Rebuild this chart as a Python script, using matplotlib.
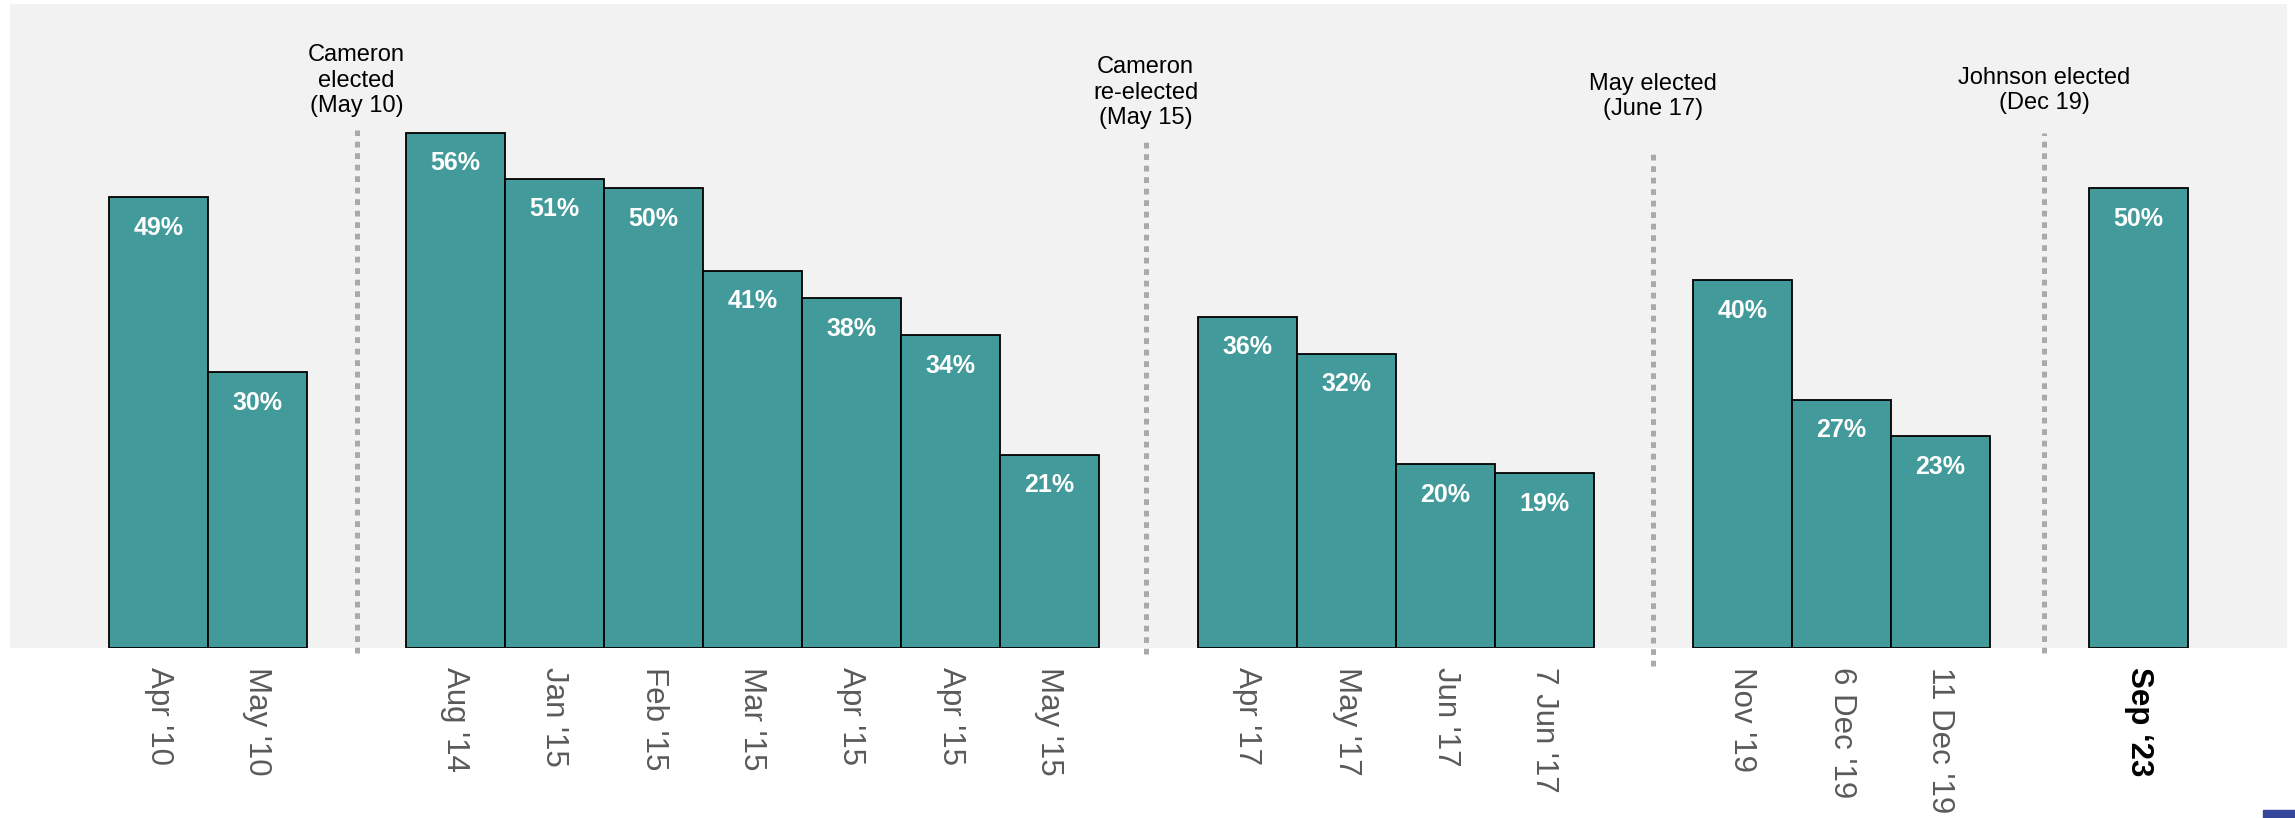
import matplotlib.pyplot as plt
from matplotlib.patches import Rectangle

plt.rcParams['font.family'] = ['Liberation Sans', 'DejaVu Sans']

# data
labels = ["Apr '10", "May '10",
          "Aug '14", "Jan '15", "Feb '15", "Mar '15", "Apr '15", "Apr '15", "May '15",
          "Apr '17", "May '17", "Jun '17", "7 Jun '17",
          "Nov '19", "6 Dec '19", "11 Dec '19",
          "Sep \u201823"]
values = [49, 30, 56, 51, 50, 41, 38, 34, 21, 36, 32, 20, 19, 40, 27, 23, 50]
group_sizes = [2, 7, 4, 3, 1]
events = ["Cameron\nelected\n(May 10)",
          "Cameron\nre-elected\n(May 15)",
          "May elected\n(June 17)",
          "Johnson elected\n(Dec 19)"]

# positions: one empty slot between groups
pos = []
gaps = []
x = 0
for gi, n in enumerate(group_sizes):
    for k in range(n):
        pos.append(x)
        x += 1
    if gi < len(group_sizes) - 1:
        gaps.append(x)
        x += 1

fig = plt.figure(figsize=(22.95, 8.18), dpi=100)
ax = fig.add_axes([10 / 2295, 1 - 648 / 818, 2277 / 2295, 644 / 818])
ax.set_facecolor('#f2f2f2')

ax.bar(pos, values, width=1.0, color='#439a9a', edgecolor='black', linewidth=1.3, zorder=3)

for p, v in zip(pos, values):
    ax.annotate(f"{v}%", (p, v), xytext=(0, -22), textcoords='offset points',
                ha='center', va='center', color='white', fontsize=18,
                fontweight='bold', zorder=4)

# election markers (drawn slightly off the slot centre, as in the original)
nudges = [0.0, -0.03, 0.1, 0.05]
line_tops = [56.3, 55.3, 54.1, 56.0]
line_bots = [-0.5, -0.7, -2.0, -0.5]
text_ys = [57.7, 56.4, 57.4, 58.0]
for g, name, dx, lt, lb, ty in zip(gaps, events, nudges, line_tops, line_bots, text_ys):
    ax.plot([g + dx, g + dx], [lb, lt], color='#aaaaaa', linewidth=3.6,
            linestyle=(0, (1.15, 1.15)), solid_capstyle='butt',
            dash_capstyle='butt', clip_on=False, zorder=2)
    ax.text(g + dx, ty, name, ha='center', va='bottom', fontsize=17,
            color='black', linespacing=1.2)

ax.set_xlim(-1.5, 21.5)
ax.set_ylim(0, 70)
ax.set_yticks([])
ax.set_xticks(pos)
ax.set_xticklabels(labels, rotation=-90, ha='center', va='top',
                   fontsize=22.5, color='#5a5a5a')
ax.tick_params(axis='x', length=0, pad=14)
last = ax.get_xticklabels()[-1]
last.set_fontweight('bold')
last.set_color('black')
for s in ax.spines.values():
    s.set_visible(False)

# small corner mark
fig.patches.append(Rectangle((2263 / 2295, 0), 32 / 2295, 8 / 818,
                             transform=fig.transFigure, color='#34479a'))

fig.savefig('out.png', dpi=100)
